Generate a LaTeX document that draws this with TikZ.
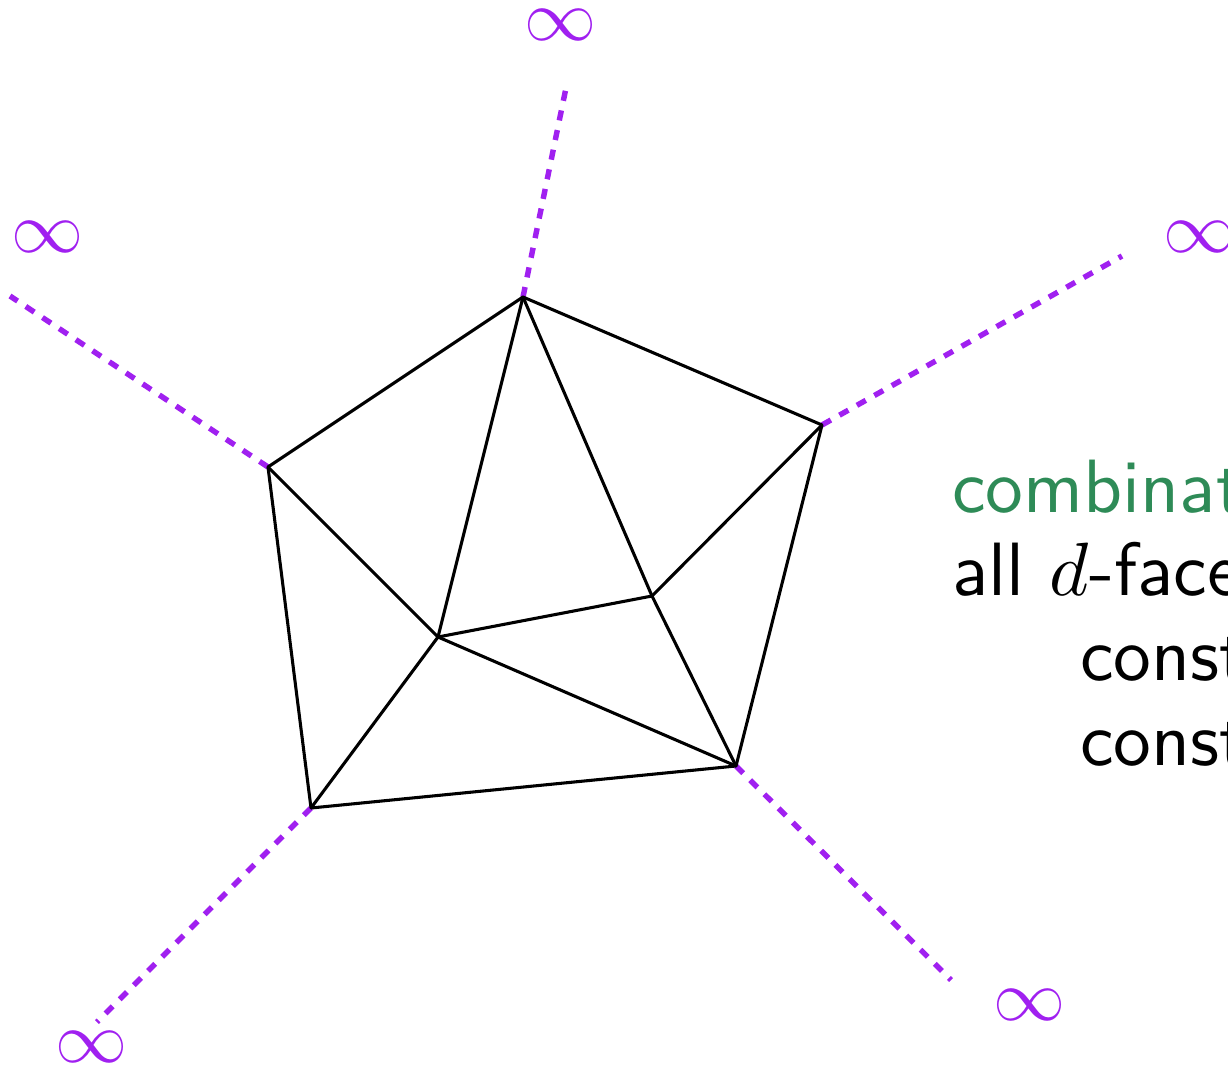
\documentclass[tikz,border=0pt]{standalone}
\usepackage{fontspec}
\newfontfamily\lmssten{lmsans10-regular.otf}
\definecolor{rayviolet}{RGB}{160,32,240}
\definecolor{labgreen}{RGB}{46,139,87}
\newcommand{\biginf}{\scalebox{4.1}{\normalsize$\infty$}}
\newcommand{\bigd}{\scalebox{4.3}{\normalsize$d$}}
\tikzset{
  edge/.style={black, line width=1.75pt},
  ray/.style={rayviolet, line width=3.1pt, dash pattern=on 5.8pt off 5.6pt},
  inf/.style={text=rayviolet, inner sep=0pt},
  txt/.style={anchor=base west, inner sep=0pt, font=\lmssten\fontsize{43}{50}\selectfont}
}
\begin{document}
\begin{tikzpicture}[x=0.02cm, y=-0.02cm]
\useasboundingbox (0,0) rectangle (1228,1068);
\clip (0,0) rectangle (1228,1068);
% vertices
\coordinate (A) at (523,297);
\coordinate (B) at (822,425);
\coordinate (C) at (268,467);
\coordinate (D) at (652,596);
\coordinate (E) at (438,637);
\coordinate (F) at (736,766);
\coordinate (G) at (311,808);
% ray ends
\coordinate (rA) at (567,83);
\coordinate (rB) at (1122,256);
\coordinate (rC) at (10,296);
\coordinate (rF) at (951,980);
\coordinate (rG) at (97,1022);
% rays
\draw[ray] (A) -- (rA);
\draw[ray] (B) -- (rB);
\draw[ray] (C) -- (rC);
\draw[ray] (F) -- (rF);
\draw[ray] (G) -- (rG);
% edges
\draw[edge, line join=round] (A) -- (B) -- (F) -- (G) -- (C) -- cycle;
\draw[edge] (A) -- (E);
\draw[edge] (A) -- (D);
\draw[edge] (D) -- (F);
\draw[edge] (B) -- (D);
\draw[edge] (D) -- (E);
\draw[edge] (C) -- (E);
\draw[edge] (E) -- (F);
\draw[edge] (E) -- (G);
% infinity labels
\node[inf] (iA) at (561,25) {\biginf};
\node[inf] (iB) at (1200,237) {\biginf};
\node[inf] (iC) at (48,237) {\biginf};
\node[inf] (iF) at (1030,1005) {\biginf};
\node[inf] (iG) at (92,1047) {\biginf};
% text
\node[txt, text=labgreen] (t1) at (952,512) {combinatorial};
\node[txt] (t2) at (952,595) {all \bigd-faces};
\node[txt] (t3) at (1080,680) {constant};
\node[txt] (t4) at (1080,765) {constant};
\end{tikzpicture}
\end{document}
